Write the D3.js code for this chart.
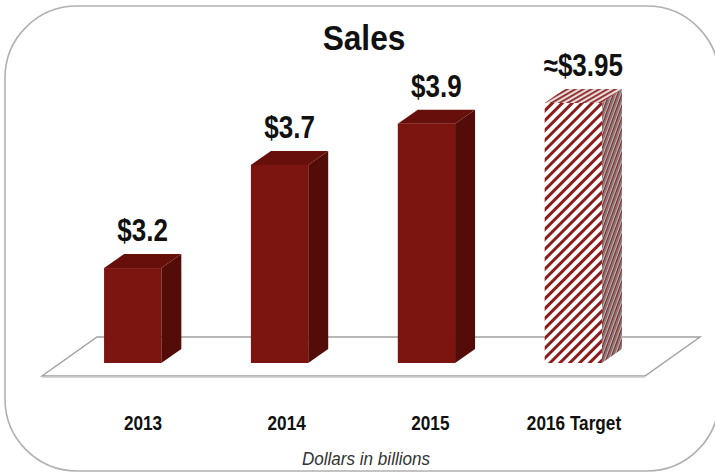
<!DOCTYPE html>
<html>
<head>
<meta charset="utf-8">
<script src="https://cdn.jsdelivr.net/npm/d3@7"></script>
<style>
  body { margin: 0; background: #fff; }
  text { font-family: "Liberation Sans", Arial, sans-serif; }
</style>
</head>
<body>
<svg></svg>
<script>
var width = 715;
var height = 475;

// data (the target bar is drawn to about 4.0 in the source, labelled ~3.95)
var categories = ['2013', '2014', '2015', '2016 Target'];
var sales = [3.2, 3.7, 3.9, 4.0];
var valueLabels = ['$3.2', '$3.7', '$3.9', '\u2248$3.95'];
var isTarget = [false, false, false, true];
var title = 'Sales';
var footnote = 'Dollars in billions';

var rows = categories.map(function (c, i) {
    return { cat: c, value: sales[i], label: valueLabels[i], target: isTarget[i] };
});

var svg = d3.select('svg')
    .attr('width', width)
    .attr('height', height);

// narrow look: squeeze text horizontally around its anchor
var squeeze = function (sel, sx, fx, fy) {
    sel.attr('transform', function (d) {
        return 'translate(' + fx(d) + ',' + fy(d) + ') scale(' + sx + ',1)';
    });
};

//..................................................................................//
// patterns for the target bar

var defs = svg.append('defs');

var frontPat = defs.append('pattern')
    .attr('id', 'stripes')
    .attr('patternUnits', 'userSpaceOnUse')
    .attr('width', 7).attr('height', 7)
    .attr('patternTransform', 'rotate(45)');
frontPat.append('rect').attr('width', 7).attr('height', 7).attr('fill', '#fff');
frontPat.append('rect').attr('width', 3).attr('height', 7).attr('fill', '#8c1c1c');

var sidePat = defs.append('pattern')
    .attr('id', 'sideStripes')
    .attr('patternUnits', 'userSpaceOnUse')
    .attr('width', 4).attr('height', 4)
    .attr('patternTransform', 'rotate(20)');
sidePat.append('rect').attr('width', 4).attr('height', 4).attr('fill', '#d8c8c8');
sidePat.append('rect').attr('width', 1.6).attr('height', 4).attr('fill', '#7a2a2a');
sidePat.append('rect').attr('x', 2.2).attr('width', 1).attr('height', 4).attr('fill', '#666');

var topPat = defs.append('pattern')
    .attr('id', 'topStripes')
    .attr('patternUnits', 'userSpaceOnUse')
    .attr('width', 4).attr('height', 4)
    .attr('patternTransform', 'rotate(60)');
topPat.append('rect').attr('width', 4).attr('height', 4).attr('fill', '#e8dede');
topPat.append('rect').attr('width', 1.8).attr('height', 4).attr('fill', '#8c2424');

//..................................................................................//
// outer rounded frame

svg.append('rect')
    .attr('x', 5).attr('y', 6)
    .attr('width', 714).attr('height', 465)
    .attr('rx', 72).attr('ry', 72)
    .attr('fill', 'none')
    .attr('stroke', '#b0b0b0')
    .attr('stroke-width', 1.6);

//..................................................................................//
// scales

var x = d3.scaleBand()
    .domain(categories)
    .range([60, 646])
    .paddingInner(0.61)
    .paddingOuter(0.3);

var labelX = d3.scalePoint()
    .domain(categories)
    .range([143, 574]);

var baseY = 363;
var y = d3.scaleLinear()
    .domain([2.74, 4.0])
    .range([baseY, 103]);

var dx = 20, dy = 14;

//..................................................................................//
// floor

var floorBack = 337, floorFront = 376, floorLeft = 42, floorRight = 645, skew = 55;

svg.append('path')
    .attr('d', 'M' + (floorLeft + skew) + ',' + floorBack +
        'L' + (floorRight + skew) + ',' + floorBack +
        'L' + floorRight + ',' + floorFront +
        'L' + floorLeft + ',' + floorFront + 'Z')
    .attr('fill', '#fff')
    .attr('stroke', '#a0a0a0')
    .attr('stroke-width', 1.4);

svg.append('line')
    .attr('x1', floorLeft).attr('x2', floorRight)
    .attr('y1', floorFront + 1).attr('y2', floorFront + 1)
    .attr('stroke', '#c8c8c8')
    .attr('stroke-width', 1.5);

//..................................................................................//
// bars

var bars = svg.selectAll('g.bar')
    .data(rows)
    .enter()
    .append('g')
    .attr('class', 'bar');

// side face
bars.append('path')
    .attr('d', function (d) {
        var x1 = x(d.cat) + x.bandwidth(), y0 = y(d.value);
        return 'M' + x1 + ',' + y0 + 'L' + (x1 + dx) + ',' + (y0 - dy) +
            'L' + (x1 + dx) + ',' + (baseY - dy) + 'L' + x1 + ',' + baseY + 'Z';
    })
    .attr('fill', function (d) { return d.target ? 'url(#sideStripes)' : '#540c08'; });

// top face
bars.append('path')
    .attr('d', function (d) {
        var x0 = x(d.cat), x1 = x0 + x.bandwidth(), y0 = y(d.value);
        return 'M' + x0 + ',' + y0 + 'L' + (x0 + dx) + ',' + (y0 - dy) +
            'L' + (x1 + dx) + ',' + (y0 - dy) + 'L' + x1 + ',' + y0 + 'Z';
    })
    .attr('fill', function (d) { return d.target ? 'url(#topStripes)' : '#670f0b'; });

// front face
bars.append('rect')
    .attr('x', function (d) { return x(d.cat); })
    .attr('y', function (d) { return y(d.value); })
    .attr('width', x.bandwidth())
    .attr('height', function (d) { return baseY - y(d.value); })
    .attr('fill', function (d) { return d.target ? 'url(#stripes)' : '#7c1410'; });

// value labels
bars.append('text')
    .attr('text-anchor', 'middle')
    .attr('font-size', 31)
    .attr('font-weight', 'bold')
    .attr('fill', '#111')
    .text(function (d) { return d.label; })
    .call(squeeze, 0.84,
        function (d) { return x(d.cat) + (x.bandwidth() + dx) / 2; },
        function (d) { return y(d.value) - dy - 13; });

//..................................................................................//
// category labels

svg.selectAll('text.cat')
    .data(rows)
    .enter()
    .append('text')
    .attr('class', 'cat')
    .attr('text-anchor', 'middle')
    .attr('font-size', 20)
    .attr('font-weight', 'bold')
    .attr('fill', '#111')
    .text(function (d) { return d.cat; })
    .call(squeeze, 0.86,
        function (d) { return labelX(d.cat); },
        function () { return 430; });

// title + footnote
svg.append('text')
    .datum(title)
    .attr('text-anchor', 'middle')
    .attr('font-size', 36)
    .attr('font-weight', 'bold')
    .attr('fill', '#111')
    .text(title)
    .call(squeeze, 0.88, function () { return 364; }, function () { return 50; });

svg.append('text')
    .datum(footnote)
    .attr('text-anchor', 'middle')
    .attr('font-size', 18)
    .attr('font-style', 'italic')
    .attr('fill', '#333')
    .text(footnote)
    .call(squeeze, 0.95, function () { return 366; }, function () { return 465; });
</script>
</body>
</html>
